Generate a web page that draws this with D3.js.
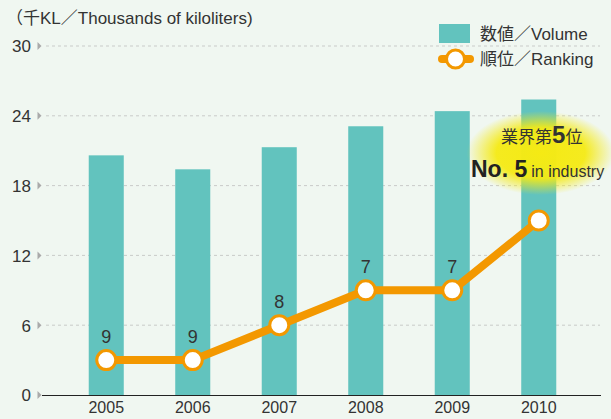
<!DOCTYPE html>
<html><head><meta charset="utf-8">
<script src="https://cdn.jsdelivr.net/npm/d3@7"></script>
<style>
html,body{margin:0;padding:0;background:#F0F7F1;}
text{font-family:"Liberation Sans","Noto Sans CJK JP",sans-serif;fill:#333;}
</style></head>
<body>
<svg id="chart" width="611" height="419"></svg>
<script>
const years = ["2005","2006","2007","2008","2009","2010"];
const volumes = [20.6, 19.4, 21.3, 23.1, 24.4, 25.4];
const rankings = [9, 9, 8, 7, 7, 5];
const rankPositions = [3, 3, 6, 9, 9, 15];
const yTicks = [0, 6, 12, 18, 24, 30];

const svg = d3.select("#chart");
const W = 611, H = 419;
svg.append("rect").attr("width", W).attr("height", H).attr("fill", "#F0F7F1");

const x = d3.scaleBand().domain(years).range([63, 582]).paddingInner(0.595).paddingOuter(0.2975);
const y = d3.scaleLinear().domain([0, 30]).range([395, 46]);
const cx = d => x(d) + x.bandwidth() / 2;

// title
svg.append("text").attr("x", 6).attr("y", 24).attr("font-size", 17).text("（千KL／Thousands of kiloliters)");

// grid
const grid = svg.append("g");
yTicks.filter(t => t > 0).forEach(t => {
  grid.append("line").attr("x1", 46).attr("x2", 600).attr("y1", y(t)).attr("y2", y(t))
    .attr("stroke", "#c9cbc9").attr("stroke-width", 1).attr("stroke-dasharray", "3,3");
});
// y axis labels & triangles
const yAxis = d3.axisLeft(y).tickValues(yTicks).tickSize(0).tickPadding(0).tickFormat(d3.format("d"));
const ya = svg.append("g").attr("transform", "translate(31,0)").call(yAxis);
ya.select(".domain").remove();
ya.selectAll("text").attr("font-size", 17).attr("fill", "#333").attr("dy", "0.35em")
  .style("font-family", '"Liberation Sans","Noto Sans CJK JP",sans-serif');
yTicks.forEach(t => {
  const yy = y(t);
  svg.append("path").attr("d", `M37.5,${yy-4} L41.5,${yy} L37.5,${yy+4} Z`).attr("fill", "#aaa");
});

// bars
svg.append("g").selectAll("rect").data(years).join("rect")
  .attr("x", d => x(d)).attr("width", x.bandwidth())
  .attr("y", (d, i) => y(volumes[i])).attr("height", (d, i) => y(0) - y(volumes[i]))
  .attr("fill", "#62C3BE");

// baseline
svg.append("line").attr("x1", 42).attr("x2", 601).attr("y1", y(0) + 0.5).attr("y2", y(0) + 0.5)
  .attr("stroke", "#222").attr("stroke-width", 1);

// x axis labels
const xAxis = d3.axisBottom(x).tickSize(0).tickPadding(0);
const xa = svg.append("g").attr("transform", `translate(0,${y(0)})`).call(xAxis);
xa.select(".domain").remove();
xa.selectAll("text").attr("font-size", 16).attr("fill", "#333").attr("dy", "1.1em")
  .style("font-family", '"Liberation Sans","Noto Sans CJK JP",sans-serif');

// glow annotation
const defs = svg.append("defs");
const rg = defs.append("radialGradient").attr("id", "glow");
rg.append("stop").attr("offset", "0%").attr("stop-color", "#F5EA14").attr("stop-opacity", 1);
rg.append("stop").attr("offset", "60%").attr("stop-color", "#F5EA14").attr("stop-opacity", 0.95);
rg.append("stop").attr("offset", "100%").attr("stop-color", "#F5EA14").attr("stop-opacity", 0);
const ax = cx("2010");
svg.append("ellipse").attr("cx", ax + 2).attr("cy", 153).attr("rx", 74).attr("ry", 42).attr("fill", "url(#glow)");

// line
const line = d3.line().x((d, i) => cx(years[i])).y(d => y(d));
svg.append("path").datum(rankPositions).attr("d", line).attr("fill", "none")
  .attr("stroke", "#F39800").attr("stroke-width", 8).attr("stroke-linejoin", "round");
svg.append("g").selectAll("circle").data(rankPositions).join("circle")
  .attr("cx", (d, i) => cx(years[i])).attr("cy", d => y(d)).attr("r", 9.5)
  .attr("fill", "#fff").attr("stroke", "#F39800").attr("stroke-width", 3);
svg.append("g").selectAll("text").data(rankings.slice(0, 5)).join("text")
  .attr("x", (d, i) => cx(years[i])).attr("y", (d, i) => y(rankPositions[i]) - 17)
  .attr("text-anchor", "middle").attr("font-size", 18).text(d => d);

// annotation text
const t1 = svg.append("text").attr("x", ax + 3).attr("y", 143).attr("text-anchor", "middle").attr("font-size", 17);
t1.append("tspan").text("業界第");
t1.append("tspan").attr("font-size", 24).attr("font-weight", "bold").text(rankings[5]);
t1.append("tspan").text("位");
const t2 = svg.append("text").attr("x", 471).attr("y", 177).attr("font-size", 23).attr("font-weight", "bold");
t2.append("tspan").attr("fill", "#222").text("No. " + rankings[5]);
t2.append("tspan").attr("font-size", 16).attr("font-weight", "normal").attr("dx", 4).text("in industry");

// legend
svg.append("rect").attr("x", 439).attr("y", 24).attr("width", 31).attr("height", 19).attr("fill", "#62C3BE");
svg.append("text").attr("x", 480).attr("y", 40).attr("font-size", 17).text("数値／Volume");
svg.append("line").attr("x1", 442).attr("x2", 470).attr("y1", 59).attr("y2", 59)
  .attr("stroke", "#F39800").attr("stroke-width", 8).attr("stroke-linecap", "round");
svg.append("circle").attr("cx", 455.5).attr("cy", 59).attr("r", 9).attr("fill", "#fff")
  .attr("stroke", "#F39800").attr("stroke-width", 3);
svg.append("text").attr("x", 480).attr("y", 65).attr("font-size", 17).text("順位／Ranking");
</script>
</body></html>
